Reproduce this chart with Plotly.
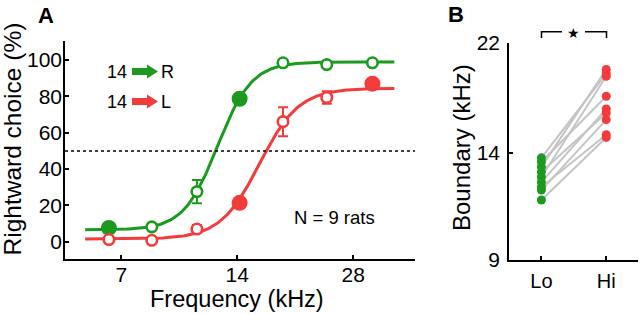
import numpy as np
import plotly.graph_objects as go

# ---------------- data ----------------
freq_khz = [6.5, 8.4, 11.0, 14.2, 18.4, 23.9, 31.4]
green_pct = [7.6, 8.2, 27.6, 78.7, 98.5, 97.5, 98.5]
green_err = [1.2, 1.2, 6.4, 1.5, 1.0, 1.2, 1.0]
green_filled = [True, False, False, True, False, False, False]
red_pct = [1.2, 0.8, 7.0, 21.4, 66.1, 79.4, 87.0]
red_err = [1.0, 1.0, 2.2, 1.5, 8.0, 3.5, 1.2]
red_filled = [False, False, False, True, False, False, True]

# psychometric fit parameters (lower, upper, midpoint kHz, slope in octaves)
green_fit = [6.5, 99.0, 12.45, 0.147]
red_fit = [1.5, 84.5, 16.0, 0.17]
fit_span_khz = [5.64, 35.8]

tick_freq = [7, 14, 28]
tick_pct = [0, 20, 40, 60, 80, 100]

boundary_lo = [13.20, 13.70, 12.66, 13.47, 12.40, 12.92, 12.00, 12.15, 11.52]
boundary_hi = [19.71, 19.38, 19.16, 17.65, 16.75, 16.48, 16.03, 15.07, 14.90]
cond_labels = ["Lo", "Hi"]
boundary_ticks = [9, 14, 22]

GREEN = "#1b9a1f"
RED = "#f23b3b"
GRAY = "#c4c4c4"
FONT = "Liberation Sans, Arial, Helvetica, sans-serif"
W, H = 640, 314


def px(x, y):
    return x / W, 1 - y / H


def logistic(f, p):
    lo, up, mid, s = p
    z = (np.log2(f) - np.log2(mid)) / s
    return lo + (up - lo) / (1 + np.exp(-z))


fig = go.Figure()

fgrid = np.geomspace(fit_span_khz[0], fit_span_khz[1], 200)
for p, col in [(green_fit, GREEN), (red_fit, RED)]:
    fig.add_trace(go.Scatter(x=fgrid, y=logistic(fgrid, p), mode="lines",
                             line=dict(color=col, width=3), xaxis="x", yaxis="y",
                             hoverinfo="skip", showlegend=False))

for vals, errs, filled, col in [(green_pct, green_err, green_filled, GREEN),
                                (red_pct, red_err, red_filled, RED)]:
    fig.add_trace(go.Scatter(
        x=freq_khz, y=vals, mode="markers", xaxis="x", yaxis="y",
        error_y=dict(type="data", array=errs, color=col, thickness=2, width=5),
        marker=dict(symbol="circle", opacity=1,
                    color=[col if f else "white" for f in filled],
                    size=[16 if f else 10.5 for f in filled],
                    line=dict(color=col, width=[0 if f else 2.6 for f in filled])),
        showlegend=False, cliponaxis=False))

# panel B
for lo, hi in zip(boundary_lo, boundary_hi):
    fig.add_trace(go.Scatter(x=[1, 2], y=[lo, hi], mode="lines",
                             line=dict(color=GRAY, width=2),
                             xaxis="x2", yaxis="y2", showlegend=False))
fig.add_trace(go.Scatter(x=[1] * len(boundary_lo), y=boundary_lo, mode="markers",
                         marker=dict(color=GREEN, size=9, opacity=1), xaxis="x2", yaxis="y2",
                         showlegend=False, cliponaxis=False))
fig.add_trace(go.Scatter(x=[2] * len(boundary_hi), y=boundary_hi, mode="markers",
                         marker=dict(color=RED, size=9, opacity=1), xaxis="x2", yaxis="y2",
                         showlegend=False, cliponaxis=False))

axis_common = dict(showline=True, linecolor="black", linewidth=1.5, ticks="inside",
                   ticklen=4, tickwidth=1.5, tickcolor="black", showgrid=False,
                   zeroline=False, automargin=False)
num_font = dict(family=FONT, size=21, color="black")

fig.update_layout(
    width=W, height=H, margin=dict(l=0, r=0, t=0, b=0, autoexpand=False),
    paper_bgcolor="white", plot_bgcolor="white",
    font=dict(family=FONT, color="black"),
    xaxis=dict(type="log", range=[np.log10(5.0), np.log10(40.5)],
               domain=[65 / W, 415 / W], anchor="y",
               tickvals=tick_freq, ticktext=[str(t) for t in tick_freq],
               ticklabelstandoff=-4, tickfont=num_font, **axis_common),
    yaxis=dict(range=[-9.5, 110.5], domain=[1 - 259 / H, 1 - 41 / H], anchor="x",
               tickvals=tick_pct, ticklabelstandoff=-3, tickfont=num_font, **axis_common),
    xaxis2=dict(range=[0.5, 2.49], domain=[509 / W, 638 / W], anchor="y2",
                tickvals=[1, 2], ticktext=cond_labels, ticklabelstandoff=2,
                tickfont=dict(family=FONT, size=20, color="black"), **axis_common),
    yaxis2=dict(type="log", range=[np.log10(9), np.log10(22)],
                domain=[1 - 260 / H, 1 - 42.7 / H], anchor="x2",
                tickvals=boundary_ticks, ticktext=[str(t) for t in boundary_ticks],
                ticklabelstandoff=3, tickfont=num_font, **axis_common),
)

# dotted 50% line
fig.add_shape(type="line", xref="x domain", yref="y", x0=0, x1=1, y0=50, y1=50,
              line=dict(color="black", width=1.5, dash="dot"))

# legend arrows (panel A)
def arrow_path(x0, x1, yc, shaft=3.5, head=7.0, headlen=11):
    xh = x1 - headlen
    pts = [(x0, yc - shaft), (xh, yc - shaft), (xh, yc - head), (x1, yc),
           (xh, yc + head), (xh, yc + shaft), (x0, yc + shaft)]
    s = ""
    for i, (a, b) in enumerate(pts):
        u, v = px(a, b)
        s += ("M" if i == 0 else "L") + f"{u:.5f},{v:.5f} "
    return s + "Z"

for yc, col, lab in [(71.5, GREEN, "R"), (101.5, RED, "L")]:
    fig.add_shape(type="path", xref="paper", yref="paper", path=arrow_path(132, 158, yc),
                  fillcolor=col, line=dict(width=0))
    x, y = px(129, yc)
    fig.add_annotation(x=x, y=y, xref="paper", yref="paper", text="14", showarrow=False,
                       xanchor="right", yanchor="middle", font=dict(size=18, family=FONT))
    x, y = px(159, yc)
    fig.add_annotation(x=x, y=y, xref="paper", yref="paper", text=lab, showarrow=False,
                       xanchor="left", yanchor="middle", font=dict(size=18, family=FONT))

# significance bracket (panel B)
for xs, ys in [([541.5, 541.5, 562], [38, 31.7, 31.7]), ([585, 606.5, 606.5], [31.7, 31.7, 38])]:
    path = ""
    for i, (a, b) in enumerate(zip(xs, ys)):
        u, v = px(a, b)
        path += ("M" if i == 0 else "L") + f"{u:.5f},{v:.5f} "
    fig.add_shape(type="path", xref="paper", yref="paper", path=path,
                  line=dict(color="black", width=1.5))

def label(text, x, y, size, angle=0, bold=False, fam=FONT):
    u, v = px(x, y)
    fig.add_annotation(x=u, y=v, xref="paper", yref="paper", showarrow=False,
                       text=f"<b>{text}</b>" if bold else text, textangle=angle,
                       xanchor="center", yanchor="middle",
                       font=dict(size=size, family=fam, color="black"))

label("★", 573.3, 32.5, 14, fam="DejaVu Sans")
label("A", 45.5, 15.5, 22, bold=True)
label("B", 456, 15, 22, bold=True)
label("Rightward choice (%)", 11.5, 139, 24.5, angle=-90)
label("Frequency (kHz)", 237, 299, 23.5)
label("Boundary (kHz)", 461, 148, 24, angle=-90)
label("N = 9 rats", 334.5, 217, 18.5)

fig.write_html("out.html", config={"displayModeBar": False},
               post_script="document.body.style.margin='0';document.body.style.overflow='hidden';")
